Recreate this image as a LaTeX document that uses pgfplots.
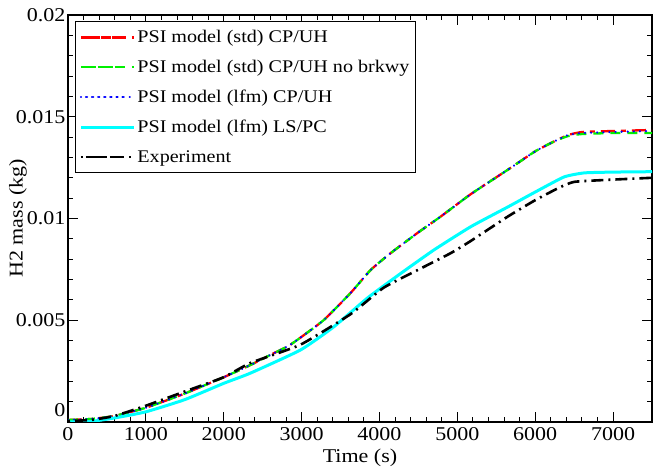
\documentclass[border=0pt]{standalone}
\usepackage{pgfplots}
\pgfplotsset{compat=1.18}
\usepackage{fontspec}
\setmainfont[FakeStretch=1.13]{Liberation Serif}
\definecolor{cR}{RGB}{255,0,0}
\definecolor{cG}{RGB}{0,240,0}
\definecolor{cB}{RGB}{0,0,255}
\definecolor{cC}{RGB}{0,255,255}
\begin{document}
\begin{tikzpicture}
\begin{axis}[
  name=ax,
  scale only axis,
  width=584pt, height=407pt,
  xmin=0, xmax=7500, ymin=0, ymax=0.02,
  xtick={0,1000,...,7000},
  ytick={0,0.005,0.01,0.015,0.02},
  yticklabels={{\raisebox{5pt}[0pt][0pt]{0}},0.005,0.01,0.015,0.02},
  scaled y ticks=false,
  minor x tick num=4, minor y tick num=4,
  tick align=inside,
  major tick length=10pt, minor tick length=5pt,
  every tick/.style={black, line width=0.9pt},
  axis line style={line width=1.3pt},
  font=\fontsize{19.5}{21}\selectfont,
  /pgf/number format/assume math mode=true,
  xticklabel style={/pgf/number format/1000 sep={}, inner sep=1pt, yshift=-4pt},
  yticklabel style={xshift=1pt},
  xlabel={Time (s)}, ylabel={H2 mass (kg)},
  xlabel style={at={(axis description cs:0.5,-0.088)}, anchor=center, inner sep=0pt},
  ylabel style={at={(axis description cs:-0.0856,0.5)}, anchor=center},
  legend style={at={(0.012,0.985)}, anchor=north west, draw=black, line width=0.8pt,
    font=\fontsize{17.8}{19}\selectfont, row sep=12pt, inner xsep=4pt, inner ysep=7pt,
    nodes={inner sep=2pt}},
  legend cell align=left,
  legend image code/.code={\path (0pt,0pt) -- (53pt,0pt); \draw[#1] (5pt,0pt) -- (42pt,0pt);},
  every axis plot/.append style={smooth, tension=0.3},
]
\addplot[cR, line width=2.3pt, dash pattern=on 14pt off 6pt on 5pt off 6pt] coordinates {
(0,0.0001)(300,0.00015)(600,0.0003)(1000,0.0007)(1500,0.0014)(2000,0.0022)(2342,0.0028)(2600,0.0033)(2857,0.0038)(3282,0.0050)(3629,0.00634)(3887,0.00747)(4144,0.0083)(4492,0.0093)(4788,0.0101)(5174,0.0112)(5650,0.0124)(6000,0.0133)(6250,0.0138)(6422,0.0141)(6600,0.01425)(7000,0.0143)(7500,0.01435)};
\addlegendentry{PSI model (std) CP/UH}
\addplot[cG, line width=2.3pt, dash pattern=on 10pt off 7pt] coordinates {
(0,0.0001)(300,0.00015)(600,0.0003)(1000,0.0007)(1500,0.0014)(2000,0.0022)(2342,0.0028)(2600,0.0033)(2857,0.0038)(3282,0.0050)(3629,0.00634)(3887,0.00747)(4144,0.0083)(4492,0.0093)(4788,0.0101)(5174,0.0112)(5650,0.0124)(6000,0.0133)(6250,0.0138)(6422,0.01405)(6600,0.01415)(7000,0.0142)(7500,0.0142)};
\addlegendentry{PSI model (std) CP/UH no brkwy\hspace{20pt}}
\addplot[cB, line width=2.3pt, dash pattern=on 0.1pt off 6pt, line cap=round] coordinates {
(0,0.0001)(300,0.00015)(600,0.0003)(1000,0.0007)(1500,0.0014)(2000,0.0022)(2342,0.0028)(2600,0.0033)(2857,0.0038)(3282,0.0050)(3629,0.00634)(3887,0.00747)(4144,0.0083)(4492,0.0093)(4788,0.0101)(5174,0.0112)(5650,0.0124)(6000,0.0133)(6250,0.0138)(6422,0.0141)(6600,0.0142)(7000,0.01425)(7500,0.0143)};
\addlegendentry{PSI model (lfm) CP/UH}
\addplot[cC, line width=3pt] coordinates {
(0,0.0)(300,0.00003)(600,0.0002)(1000,0.0005)(1500,0.0011)(2000,0.0019)(2342,0.0024)(2986,0.00354)(3411,0.00467)(3848,0.0061)(4273,0.0073)(4698,0.00845)(5174,0.0096)(5650,0.01057)(6000,0.0113)(6370,0.01204)(6628,0.01224)(7000,0.01228)(7500,0.0123)};
\addlegendentry{PSI model (lfm) LS/PC}
\addplot[black, line width=2.6pt, dash pattern=on 2pt off 5pt on 12pt off 5pt] coordinates {
(0,0.00005)(300,0.0001)(600,0.0003)(1000,0.0008)(1500,0.0015)(2000,0.0022)(2342,0.0029)(2986,0.0038)(3629,0.0053)(4054,0.0066)(4492,0.00747)(4916,0.0083)(5174,0.0089)(5650,0.0101)(6000,0.0109)(6300,0.0115)(6500,0.0118)(6937,0.0119)(7500,0.0120)};
\addlegendentry{Experiment}
\end{axis}
\pgfresetboundingbox
\path[use as bounding box] ([xshift=-68pt,yshift=-45pt]ax.south west) rectangle ([xshift=2pt,yshift=15pt]ax.north east);
\end{tikzpicture}
\end{document}
